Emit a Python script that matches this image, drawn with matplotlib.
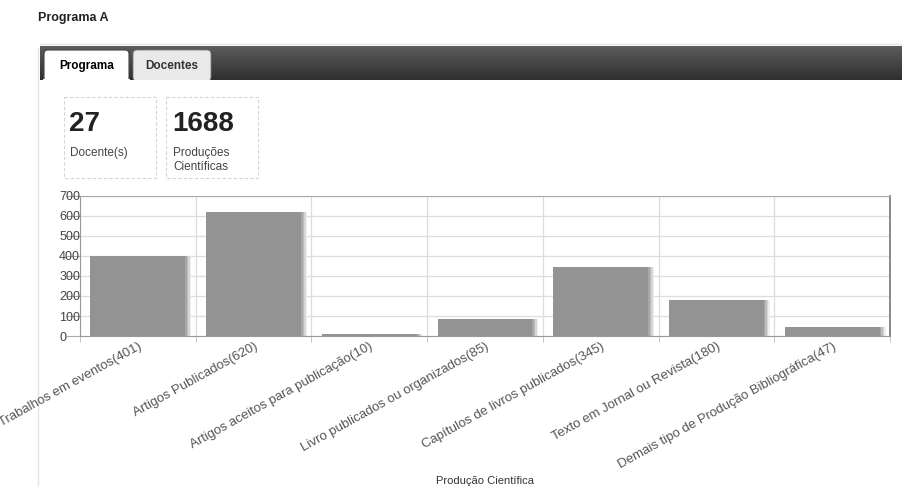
import numpy as np
import matplotlib.pyplot as plt
from matplotlib.patches import Rectangle, FancyBboxPatch
from matplotlib.colors import LinearSegmentedColormap

plt.rcParams['font.family'] = ['Liberation Sans', 'DejaVu Sans']

# data
categorias = [
    "Trabalhos em eventos(401)",
    "Artigos Publicados(620)",
    "Artigos aceitos para publicação(10)",
    "Livro publicados ou organizados(85)",
    "Capítulos de livros publicados(345)",
    "Texto em Jornal ou Revista(180)",
    "Demais tipo de Produção Bibliográfica(47)",
]
valores = [401, 620, 10, 85, 345, 180, 47]
n_docentes = 27
n_producoes = 1688

W, H = 902, 486
fig = plt.figure(figsize=(W / 100, H / 100), dpi=100)

# background axes in pixel coords for the page decorations
bg = fig.add_axes([0, 0, 1, 1])
bg.set_xlim(0, W)
bg.set_ylim(H, 0)
bg.axis('off')

bg.text(38, 18, "Programa A", fontsize=9, fontweight='bold', va='center', ha='left', color='#222222')

# panel outline
bg.plot([38, 38], [48, H], color='#e4e4e4', lw=1)
bg.plot([40, W], [44, 44], color='#e4e4e4', lw=1)

# dark header bar with gradient
grad = np.linspace(0, 1, 50).reshape(-1, 1)
cmap = LinearSegmentedColormap.from_list('bar', ['#5c5c5c', '#2f2f2f'])
bg.imshow(grad, extent=[40, W, 80, 46], cmap=cmap, aspect='auto', zorder=1)

# tabs
bg.add_patch(FancyBboxPatch((44, 50), 85, 33, boxstyle="round,pad=0,rounding_size=4",
                            fc='white', ec='#444444', lw=0.8, zorder=2))
bg.add_patch(Rectangle((43, 79.5), 87, 5, fc='white', ec='none', zorder=3))
bg.add_patch(FancyBboxPatch((133, 50), 78, 31, boxstyle="round,pad=0,rounding_size=4",
                            fc='#e9e9e9', ec='#777777', lw=0.6, zorder=2))
bg.add_patch(Rectangle((132, 80), 80, 4, fc='white', ec='none', zorder=3))
bg.text(87, 66, "Programa", fontsize=8.5, fontweight='bold', ha='center', va='center', zorder=4)
bg.text(172, 66, "Docentes", fontsize=8.5, fontweight='bold', ha='center', va='center',
        color='#333333', zorder=4)

# stat boxes
for bx in [64, 166]:
    bg.add_patch(Rectangle((bx, 97), 92, 81, fc='none', ec='#d4d4d4', lw=0.8, ls=(0, (3, 2))))
bg.text(69, 124, str(n_docentes), fontsize=20, fontweight='bold', va='center', ha='left', color='#222222')
bg.text(70, 153, "Docente(s)", fontsize=8.5, va='center', ha='left', color='#444444')
bg.text(172, 124, str(n_producoes), fontsize=20, fontweight='bold', va='center', ha='left', color='#222222')
bg.text(173, 153, "Produções", fontsize=8.5, va='center', ha='left', color='#444444')
bg.text(173, 167, "Científicas", fontsize=8.5, va='center', ha='left', color='#444444')

# x axis title
bg.text(485, 481, "Produção Científica", fontsize=8, ha='center', va='center', color='#333333')

# chart axes
x0, x1, y0, y1 = 80, 890, 196, 336
ax = fig.add_axes([x0 / W, (H - y1) / H, (x1 - x0) / W, (y1 - y0) / H])
pos = np.arange(len(valores)) + 0.5
px = 7 / (x1 - x0)  # one pixel in data units

# soft shadow to the right of each bar
for off, c in [(6, '#eeeeee'), (4.5, '#d6d6d6'), (3, '#bcbcbc'), (1.5, '#a8a8a8')]:
    ax.bar(pos + off * px, valores, width=0.82, color=c, zorder=2)
ax.bar(pos, valores, width=0.82, color='#939393', zorder=3)

ax.set_xlim(0, 7)
ax.set_ylim(0, 700)
ax.set_yticks(np.arange(0, 701, 100))
ax.set_xticks(pos)
ax.set_xticklabels(categorias, rotation=29, ha='right', rotation_mode='anchor',
                   fontsize=9.5, color='#555555')
ax.set_xticks(np.arange(0, 8), minor=True)
ax.tick_params(axis='x', which='major', length=0, pad=3)
ax.tick_params(axis='x', which='minor', length=4, color='#bbbbbb')
ax.tick_params(axis='y', length=10, pad=5, labelsize=9, labelcolor='#444444', color='#aaaaaa')
for lab in ax.get_yticklabels():
    lab.set_horizontalalignment('left')
ax.grid(True, axis='y', color='#dddddd', lw=0.9, zorder=0)
ax.grid(True, axis='x', which='minor', color='#dddddd', lw=0.9, zorder=0)
ax.set_axisbelow(True)
for s in ['left', 'bottom']:
    ax.spines[s].set_color('#999999')
ax.spines['top'].set_color('#aaaaaa')
ax.spines['right'].set_color('#888888')
ax.spines['right'].set_linewidth(1.4)

fig.savefig("out.png", dpi=100)
